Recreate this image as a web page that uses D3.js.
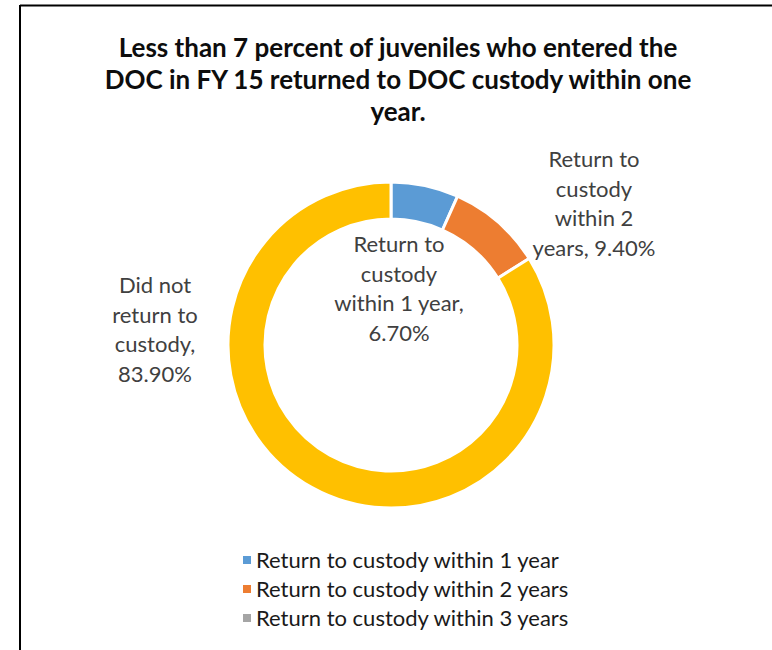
<!DOCTYPE html>
<html>
<head>
<meta charset="utf-8">
<script src="https://cdn.jsdelivr.net/npm/d3@7"></script>
<style>
  html, body { margin: 0; padding: 0; background: #fff; }
  svg { display: block; }
</style>
</head>
<body>
<svg id="chart" width="772" height="650"></svg>
<script>
// Outcome categories for juveniles who entered the DOC in FY 15
const categories = [
  "Return to custody within 1 year",
  "Return to custody within 2 years",
  "Return to custody within 3 years",
  "Did not return to custody"
];
const values = [6.7, 9.4, 0, 83.9];
const colors = ["#5B9BD5", "#ED7D31", "#A5A5A5", "#FFC000"];
const legendItems = categories.slice(0, 3);
const titleLines = [
  "Less than 7 percent of juveniles who entered the",
  "DOC in FY 15 returned to DOC custody within one",
  "year."
];

const svg = d3.select("#chart");
const W = 772, H = 650;
const FONT = "Lato, 'Open Sans', sans-serif";

// Frame (top and left edges visible)
svg.append("line").attr("x1", 20).attr("y1", 5.5).attr("x2", W).attr("y2", 5.5)
  .attr("stroke", "#000").attr("stroke-width", 2);
svg.append("line").attr("x1", 20).attr("y1", 5).attr("x2", 20).attr("y2", H)
  .attr("stroke", "#000").attr("stroke-width", 2);

// Title
svg.append("g").selectAll("text").data(titleLines).join("text")
  .attr("x", 398)
  .attr("y", (d, i) => 57 + i * 32)
  .attr("text-anchor", "middle")
  .attr("font-family", FONT)
  .attr("font-weight", "bold")
  .attr("font-size", 26)
  .attr("fill", "#0d0d0d")
  .text(d => d);

// Doughnut
const cx = 391, cy = 345;
const outerR = 163, innerR = 126;
const data = categories.map((c, i) => ({ name: c, value: values[i], color: colors[i] }));
const pie = d3.pie().sort(null).value(d => d.value);
const arc = d3.arc().innerRadius(innerR).outerRadius(outerR);
const arcs = pie(data);

const g = svg.append("g").attr("transform", `translate(${cx},${cy})`);
g.selectAll("path").data(arcs.filter(a => a.data.value > 0)).join("path")
  .attr("d", arc)
  .attr("fill", d => d.data.color)
  .attr("stroke", "#fff")
  .attr("stroke-width", 3)
  .attr("stroke-linejoin", "miter");

// Data labels: category name and percentage
const labelAnchors = {
  "Return to custody within 1 year": { x: 399, y: 252, lines: ["Return to", "custody", "within 1 year,"] },
  "Return to custody within 2 years": { x: 594, y: 167, lines: ["Return to", "custody", "within 2"] },
  "Did not return to custody": { x: 155, y: 293, lines: ["Did not", "return to", "custody,"] }
};
const fmt = d3.format(".2f");
arcs.filter(a => a.data.value > 0).forEach(a => {
  const anc = labelAnchors[a.data.name];
  let lines = anc.lines.slice();
  const pct = fmt(a.data.value) + "%";
  if (a.data.name === "Return to custody within 2 years") lines.push("years, " + pct);
  else lines.push(pct);
  svg.append("g").selectAll("text").data(lines).join("text")
    .attr("x", anc.x)
    .attr("y", (d, i) => anc.y + i * 29.5)
    .attr("text-anchor", "middle")
    .attr("font-family", FONT)
    .attr("font-size", 22)
    .attr("fill", "#404040")
    .text(d => d);
});

// Legend
const legend = svg.append("g");
const li = legend.selectAll("g").data(legendItems).join("g")
  .attr("transform", (d, i) => `translate(243, ${560 + i * 29})`);
li.append("rect").attr("x", 0).attr("y", -4).attr("width", 8).attr("height", 8)
  .attr("fill", (d, i) => colors[i]);
li.append("text").attr("x", 13).attr("y", 8)
  .attr("font-family", FONT)
  .attr("font-size", 22)
  .attr("fill", "#1a1a1a")
  .text(d => d);
</script>
</body>
</html>
